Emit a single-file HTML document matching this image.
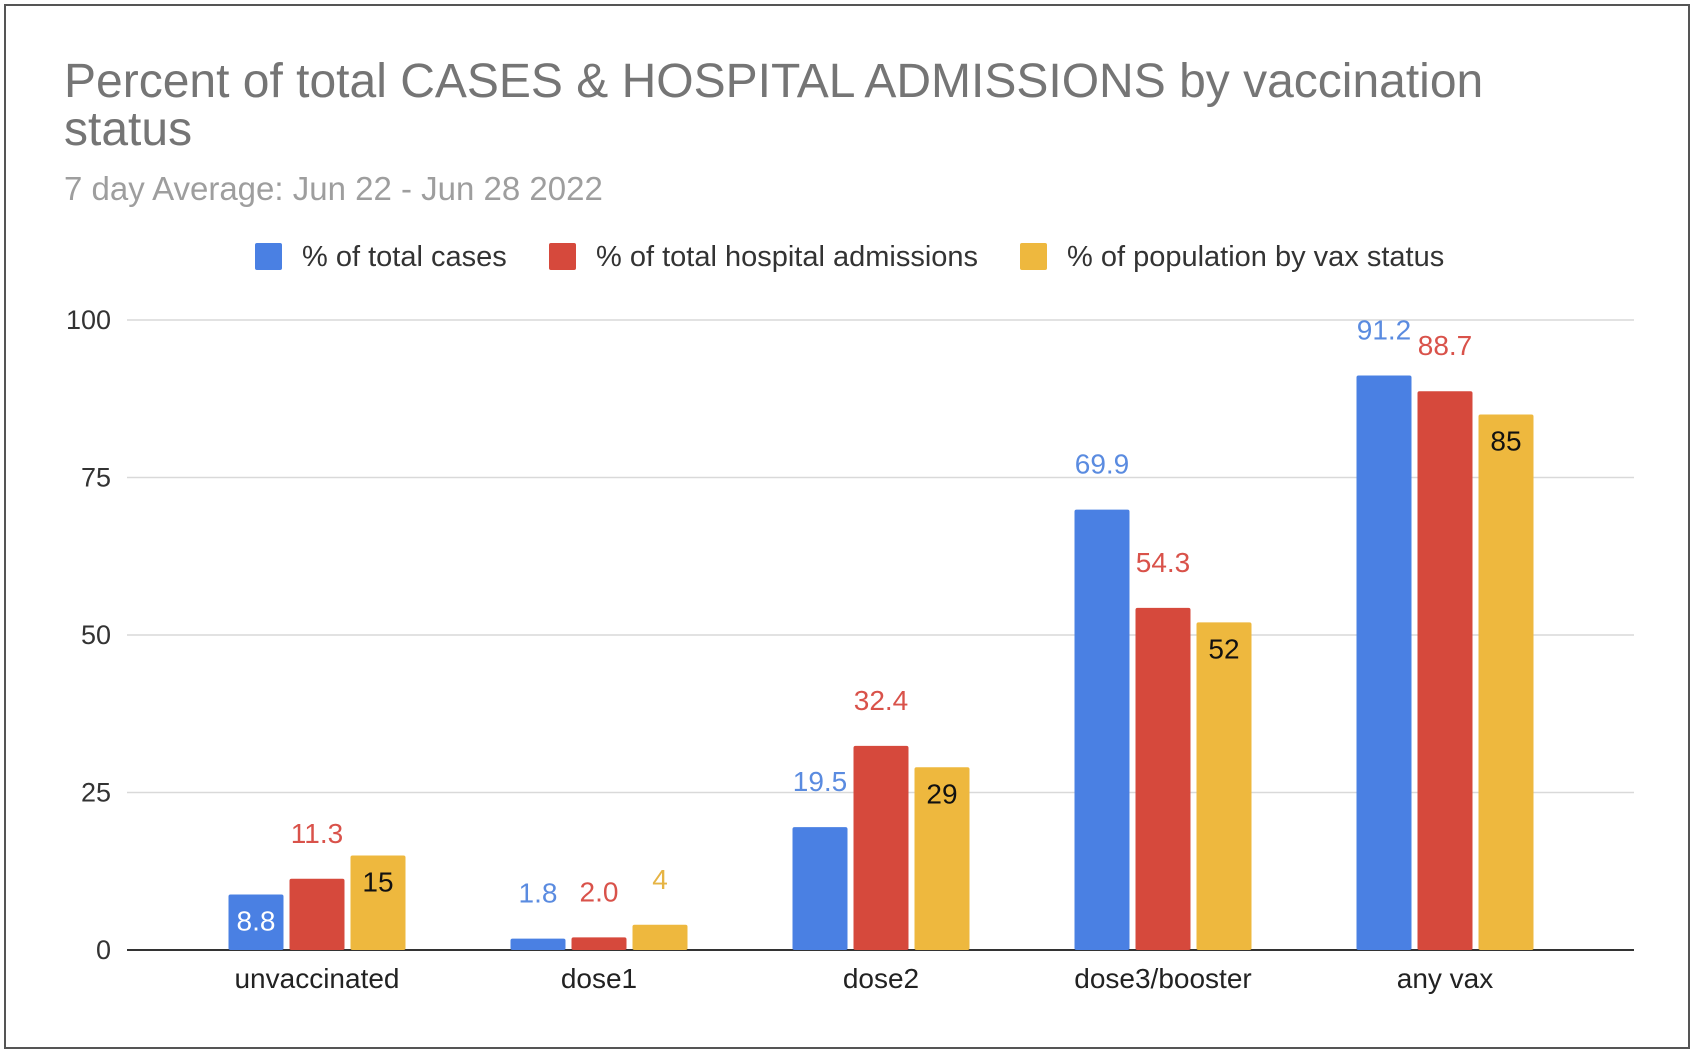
<!DOCTYPE html>
<html><head><meta charset="utf-8"><style>
html,body{margin:0;padding:0;background:#fff;}
svg{display:block;font-family:"Liberation Sans",sans-serif;}
</style></head><body>
<svg id="chart" width="1694" height="1056" viewBox="0 0 1694 1056">
<rect x="5" y="5" width="1684" height="1043" fill="#fff" stroke="#555" stroke-width="2"/>
<text x="64" y="97" font-size="48" fill="#757575">Percent of total CASES &amp; HOSPITAL ADMISSIONS by vaccination</text>
<text x="64" y="145" font-size="48" fill="#757575">status</text>
<text x="64" y="200" font-size="33" fill="#9e9e9e">7 day Average: Jun 22 - Jun 28 2022</text>
<g id="legend"></g>
<g id="grid"></g>
<g id="bars"></g>
<g id="labels"></g>
<g id="xaxis"></g>
</svg>
<script>
const categories = ["unvaccinated","dose1","dose2","dose3/booster","any vax"];
const seriesNames = ["% of total cases","% of total hospital admissions","% of population by vax status"];
const casesValues = [8.8,1.8,19.5,69.9,91.2];
const hospValues = [11.3,2.0,32.4,54.3,88.7];
const popValues = [15,4,29,52,85];
const casesLabels = ["8.8","1.8","19.5","69.9","91.2"];
const hospLabels = ["11.3","2.0","32.4","54.3","88.7"];
const popLabels = ["15","4","29","52","85"];
const yTicks = [0,25,50,75,100];

const NS="http://www.w3.org/2000/svg";
const colors=["#4a80e3","#d6493c","#eeb83e"];
const labelColors=["#5a8be0","#d9524a","#e6b444"];
const series=[casesValues,hospValues,popValues];
const labels=[casesLabels,hospLabels,popLabels];
const x0=127,x1=1634,yTop=320,yBot=950;
const y=v=>yBot-(v/100)*(yBot-yTop);
const groupW=282,groupStart=176;
const barW=55,gap=6;
function el(t,a,p){const e=document.createElementNS(NS,t);for(const k in a)e.setAttribute(k,a[k]);p.appendChild(e);return e;}
const grid=document.getElementById('grid');
yTicks.forEach(t=>{
  const l=el('line',{x1:x0,x2:x1,y1:y(t),y2:y(t),stroke:t===0?'#333':'#d9d9d9','stroke-width':t===0?2:1.5},grid);
  
  
  const tx=el('text',{x:111,y:y(t)+9,'text-anchor':'end','font-size':27,fill:'#333'},grid);
  tx.textContent=t;
  
  
});
const bars=document.getElementById('bars'),lab=document.getElementById('labels'),xa=document.getElementById('xaxis');
categories.forEach((c,i)=>{
  const cx=groupStart+groupW*(i+0.5);
  series.forEach((s,j)=>{
    const bx=cx+(j-1)*(barW+gap)-barW/2;
    const v=s[i];
    const r=el('rect',{x:bx,y:y(v),width:barW,height:yBot-y(v),fill:colors[j],rx:2},bars);
    
    
    const inside=(j===0&&v>5&&v<10)||(j===2&&v>=10);
    const t=el('text',{x:bx+barW/2,'text-anchor':'middle','font-size':28,
      y:inside?y(v)+36:y(v)-36,fill:inside?(j===0?'#fff':'#111'):labelColors[j]},lab);
    t.textContent=labels[j][i];
    
    
  });
  const t=el('text',{x:cx,y:988,'text-anchor':'middle','font-size':28,fill:'#222'},xa);
  t.textContent=c;
  
  
});
const lg=document.getElementById('legend');
const lx=[255,549,1020];
seriesNames.forEach((n,j)=>{
  const r=el('rect',{x:lx[j],y:243,width:27,height:27,fill:colors[j],rx:2},lg);
  
  
  const t=el('text',{x:lx[j]+47,y:266,'font-size':29,fill:'#333'},lg);
  t.textContent=n;
  
  
});
</script>
</body></html>
